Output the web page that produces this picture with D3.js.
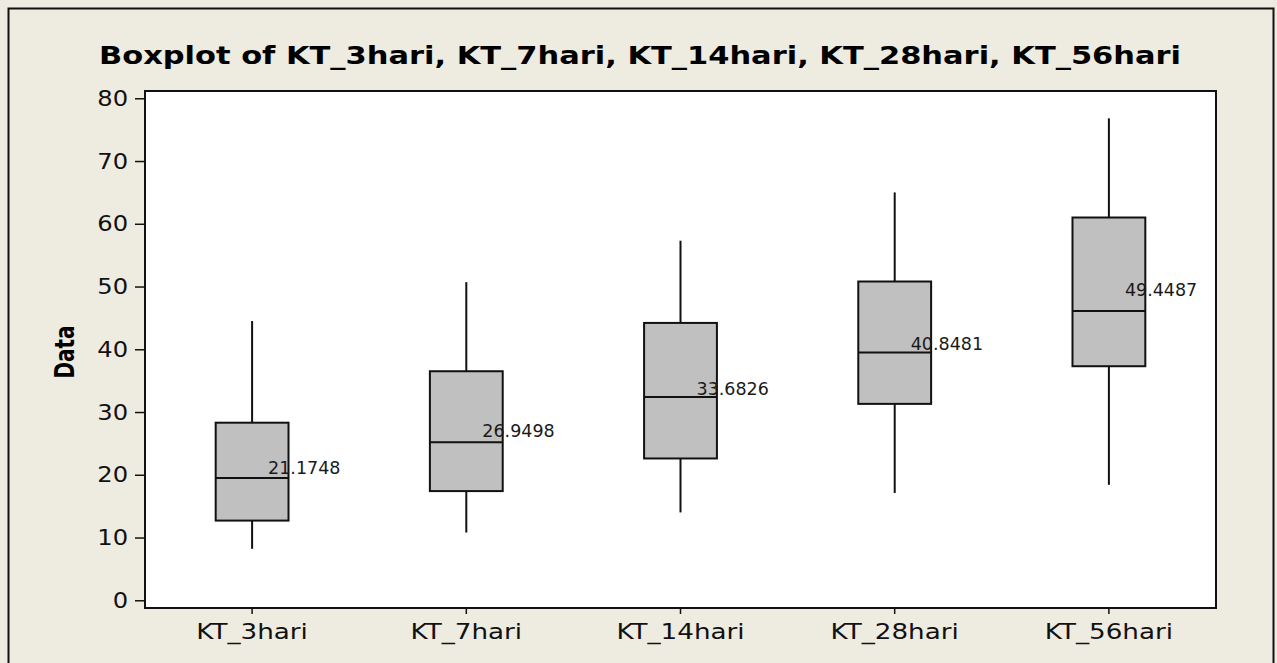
<!DOCTYPE html>
<html>
<head>
<meta charset="utf-8">
<script src="https://cdn.jsdelivr.net/npm/d3@7"></script>
<style>
  html, body { margin: 0; padding: 0; background: #eeebe1; }
  svg { display: block; }
  text { font-family: "DejaVu Sans", Verdana, sans-serif; }
</style>
</head>
<body>
<svg id="chart" width="1277" height="663"></svg>
<script>
// Box summaries for each curing age
const categories = ["KT_3hari", "KT_7hari", "KT_14hari", "KT_28hari", "KT_56hari"];
const whiskerLow  = [8.2, 10.8, 14.0, 17.1, 18.4];
const q1          = [12.7, 17.4, 22.6, 31.3, 37.3];
const median      = [19.5, 25.2, 32.4, 39.5, 46.1];
const q3          = [28.3, 36.5, 44.2, 50.8, 61.0];
const whiskerHigh = [44.5, 50.7, 57.3, 65.0, 76.8];
const means       = [21.1748, 26.9498, 33.6826, 40.8481, 49.4487];
const meanLabels  = ["21.1748", "26.9498", "33.6826", "40.8481", "49.4487"];
const yTicks      = [0, 10, 20, 30, 40, 50, 60, 70, 80];

const title = "Boxplot of KT_3hari, KT_7hari, KT_14hari, KT_28hari, KT_56hari";
const yTitle = "Data";

const W = 1277, H = 663;
const plot = { left: 145, right: 1216, top: 91, bottom: 608 };
const FONT = '"DejaVu Sans", Verdana, sans-serif';

const svg = d3.select("#chart");

// page background and outer frame
svg.append("rect").attr("x", 0).attr("y", 0).attr("width", W).attr("height", H).attr("fill", "#eeebe1");
svg.append("rect")
  .attr("x", 8.5).attr("y", 8.5).attr("width", 1265).attr("height", 700)
  .attr("fill", "none").attr("stroke", "#111").attr("stroke-width", 2);

const x = d3.scaleBand().domain(categories).range([plot.left, plot.right]).padding(0);
const y = d3.scaleLinear().domain([-1.23, 81.16]).range([plot.bottom, plot.top]);

// data region
svg.append("rect")
  .attr("x", plot.left).attr("y", plot.top)
  .attr("width", plot.right - plot.left).attr("height", plot.bottom - plot.top)
  .attr("fill", "#ffffff");

const rows = categories.map((c, i) => ({
  cat: c, lo: whiskerLow[i], q1: q1[i], med: median[i], q3: q3[i], hi: whiskerHigh[i],
  mean: means[i], label: meanLabels[i]
}));

const boxW = x.bandwidth() * 0.34;
const cx = d => x(d.cat) + x.bandwidth() / 2;

const g = svg.append("g");
const box = g.selectAll("g.box").data(rows).join("g").attr("class", "box");

// whiskers
box.append("line")
  .attr("x1", cx).attr("x2", cx)
  .attr("y1", d => y(d.q3)).attr("y2", d => y(d.hi))
  .attr("stroke", "#111").attr("stroke-width", 2);
box.append("line")
  .attr("x1", cx).attr("x2", cx)
  .attr("y1", d => y(d.q1)).attr("y2", d => y(d.lo))
  .attr("stroke", "#111").attr("stroke-width", 2);

// interquartile boxes
box.append("rect")
  .attr("x", d => cx(d) - boxW / 2).attr("width", boxW)
  .attr("y", d => y(d.q3)).attr("height", d => y(d.q1) - y(d.q3))
  .attr("fill", "#c0c0c0").attr("stroke", "#111").attr("stroke-width", 2);

// medians
box.append("line")
  .attr("x1", d => cx(d) - boxW / 2).attr("x2", d => cx(d) + boxW / 2)
  .attr("y1", d => y(d.med)).attr("y2", d => y(d.med))
  .attr("stroke", "#111").attr("stroke-width", 2);

// mean labels
box.append("text")
  .attr("x", d => cx(d) + 16).attr("y", d => y(d.mean))
  .attr("dy", "0.36em")
  .attr("font-size", 17.5).attr("fill", "#1a1a1a")
  .text(d => d.label);

// plot frame
svg.append("rect")
  .attr("x", plot.left).attr("y", plot.top)
  .attr("width", plot.right - plot.left).attr("height", plot.bottom - plot.top)
  .attr("fill", "none").attr("stroke", "#111").attr("stroke-width", 2);

// y axis (labels drawn slightly wide)
const ySx = 1.1;
const yAxis = svg.append("g")
  .attr("transform", `translate(${plot.left},0)`)
  .call(d3.axisLeft(y).tickValues(yTicks).tickSize(10).tickPadding(7).tickFormat(d3.format("d")));
yAxis.select(".domain").remove();
yAxis.selectAll("line").attr("stroke", "#111").attr("stroke-width", 1.5);
yAxis.selectAll("text")
  .attr("font-size", 22).attr("fill", "#111").style("font-family", FONT)
  .attr("x", -17 / ySx).attr("transform", `scale(${ySx},1)`);

// x axis
const xSx = 1.19;
const xAxis = svg.append("g")
  .attr("transform", `translate(0,${plot.bottom})`)
  .call(d3.axisBottom(x).tickSize(6).tickPadding(9));
xAxis.select(".domain").remove();
xAxis.selectAll("line").attr("stroke", "#111").attr("stroke-width", 1.5);
xAxis.selectAll("text")
  .attr("font-size", 22).attr("fill", "#111").style("font-family", FONT)
  .attr("transform", `scale(${xSx},1)`);

// titles
svg.append("text")
  .attr("transform", "translate(640,64) scale(1.27,1)")
  .attr("text-anchor", "middle")
  .attr("font-size", 24).attr("font-weight", "bold").attr("fill", "#000")
  .text(title);

svg.append("text")
  .attr("transform", "translate(74,352) rotate(-90) scale(1,1.3)")
  .attr("text-anchor", "middle")
  .attr("font-size", 20).attr("font-weight", "bold").attr("fill", "#000")
  .text(yTitle);
</script>
</body>
</html>
